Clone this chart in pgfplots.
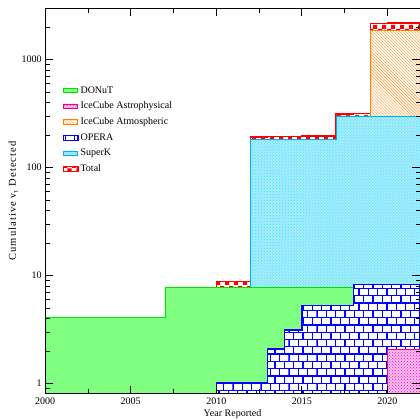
\documentclass[border=0pt]{standalone}
\usepackage{fontspec}
\setmainfont{Liberation Serif}
\usepackage{pgfplots}
\pgfplotsset{compat=1.18}
\usetikzlibrary{patterns}

\pgfdeclarepatternformonly{bigcheck}{\pgfpointorigin}{\pgfqpoint{9pt}{9pt}}{\pgfqpoint{9pt}{9pt}}{%
  \pgfpathrectangle{\pgfpointorigin}{\pgfqpoint{4.5pt}{4.5pt}}%
  \pgfpathrectangle{\pgfqpoint{4.5pt}{4.5pt}}{\pgfqpoint{4.5pt}{4.5pt}}%
  \pgfusepath{fill}}
\pgfdeclarepatternformonly{mybricks}{\pgfqpoint{-0.7pt}{-0.7pt}}{\pgfqpoint{10pt}{15.3pt}}{\pgfqpoint{9.3pt}{14.6pt}}{%
  \pgfsetlinewidth{1.3pt}%
  \pgfpathmoveto{\pgfqpoint{0pt}{0pt}}\pgfpathlineto{\pgfqpoint{9.3pt}{0pt}}%
  \pgfpathmoveto{\pgfqpoint{0pt}{7.3pt}}\pgfpathlineto{\pgfqpoint{9.3pt}{7.3pt}}%
  \pgfpathmoveto{\pgfqpoint{0pt}{0pt}}\pgfpathlineto{\pgfqpoint{0pt}{7.3pt}}%
  \pgfpathmoveto{\pgfqpoint{4.65pt}{7.3pt}}\pgfpathlineto{\pgfqpoint{4.65pt}{14.6pt}}%
  \pgfusepath{stroke}}

\pgfplotsset{
  totalsty/.style={draw=red, line width=1.3pt, fill=white, postaction={pattern=bigcheck, pattern color=red}},
  atmsty/.style={draw=orange, line width=0.8pt, fill=white, postaction={pattern=north west lines, pattern color=orange!85}},
  sksty/.style={draw=cyan, line width=0.8pt, fill=cyan!30, postaction={pattern=crosshatch dots, pattern color=cyan}},
  donsty/.style={draw=green!90!black, line width=0.8pt, fill=green!50},
  operasty/.style={draw=blue, line width=1.3pt, fill=white, postaction={pattern=mybricks, pattern color=blue}},
  astrosty/.style={draw=magenta, line width=0.8pt, fill=magenta!25, postaction={pattern=crosshatch dots, pattern color=magenta}},
}

\begin{document}
\begin{tikzpicture}
\begin{axis}[
  width=374pt, height=385pt, scale only axis,
  xmin=2000, xmax=2021.9,
  ymode=log, ymin=0.8, ymax=3000, log origin=infty,
  xtick={2000,2005,2010,2015,2020},
  minor xtick={2002.5,2007.5,2012.5,2017.5},
  ytick={1,10,100,1000}, yticklabels={1,10,100,1000},
  minor ytick={0.9,2,3,4,5,6,7,8,9,20,30,40,50,60,70,80,90,200,300,400,500,600,700,800,900,2000,3000},
  tick align=inside, major tick length=8pt, minor tick length=4.5pt,
  tick style={black, line width=0.8pt},
  axis line style={line width=1pt},
  /pgf/number format/1000 sep={}, /pgf/number format/assume math mode=true,
  tick label style={font=\fontsize{10}{12}\selectfont},
  label style={font=\fontsize{10}{12}\selectfont},
  xlabel={Year Reported},
  ylabel={\addfontfeature{LetterSpace=10}Cumulative ν\textsubscript{τ} Detected},
  xlabel style={yshift=2pt},
  ylabel style={yshift=-3pt, font=\fontsize{10.5}{12}\selectfont},
  axis on top,
  no marks,
  legend image code/.code={\draw[#1] (0pt,-2.3pt) rectangle (14pt,2.3pt);},
  legend style={at={(rel axis cs:0.045,0.805)}, anchor=north west, draw=none, fill=none,
    font=\fontsize{10}{12}\selectfont, row sep=3.4pt, inner sep=1pt},
  legend cell align=left,
]
% Total
\addplot[totalsty, const plot, forget plot] coordinates {
 (2010,8.8) (2012,191.8) (2013,192.9) (2014,193.9) (2015,196.1) (2017,313.1) (2018,316) (2019,2171) (2020,2173) (2021.9,2173)} \closedcycle;
% IceCube Atmospheric
\addplot[atmsty, const plot, forget plot] coordinates {
 (2019,1855) (2021.9,1855)} \closedcycle;
% SuperK
\addplot[sksty, const plot, forget plot] coordinates {
 (2012,183) (2017,300) (2021.9,300)} \closedcycle;
% DONuT
\addplot[donsty, const plot, forget plot] coordinates {
 (2000,4.1) (2007,7.8) (2021.9,7.8)} \closedcycle;
% OPERA
\addplot[operasty, const plot, forget plot] coordinates {
 (2010,1.02) (2013,2.08) (2014,3.13) (2015,5.29) (2018,8.2) (2021.9,8.2)} \closedcycle;
% IceCube Astrophysical
\addplot[astrosty, const plot, forget plot] coordinates {
 (2020,2.05) (2021.9,2.05)} \closedcycle;

\addlegendimage{donsty}\addlegendentry{DONuT}
\addlegendimage{astrosty}\addlegendentry{IceCube Astrophysical}
\addlegendimage{atmsty}\addlegendentry{IceCube Atmospheric}
\addlegendimage{operasty}\addlegendentry{OPERA}
\addlegendimage{sksty}\addlegendentry{SuperK}
\addlegendimage{totalsty}\addlegendentry{Total}
\end{axis}
\pgfresetboundingbox
\path (current axis.south west) +(-45pt,-26pt) (current axis.north east) +(0pt,8pt);
\end{tikzpicture}
\end{document}
